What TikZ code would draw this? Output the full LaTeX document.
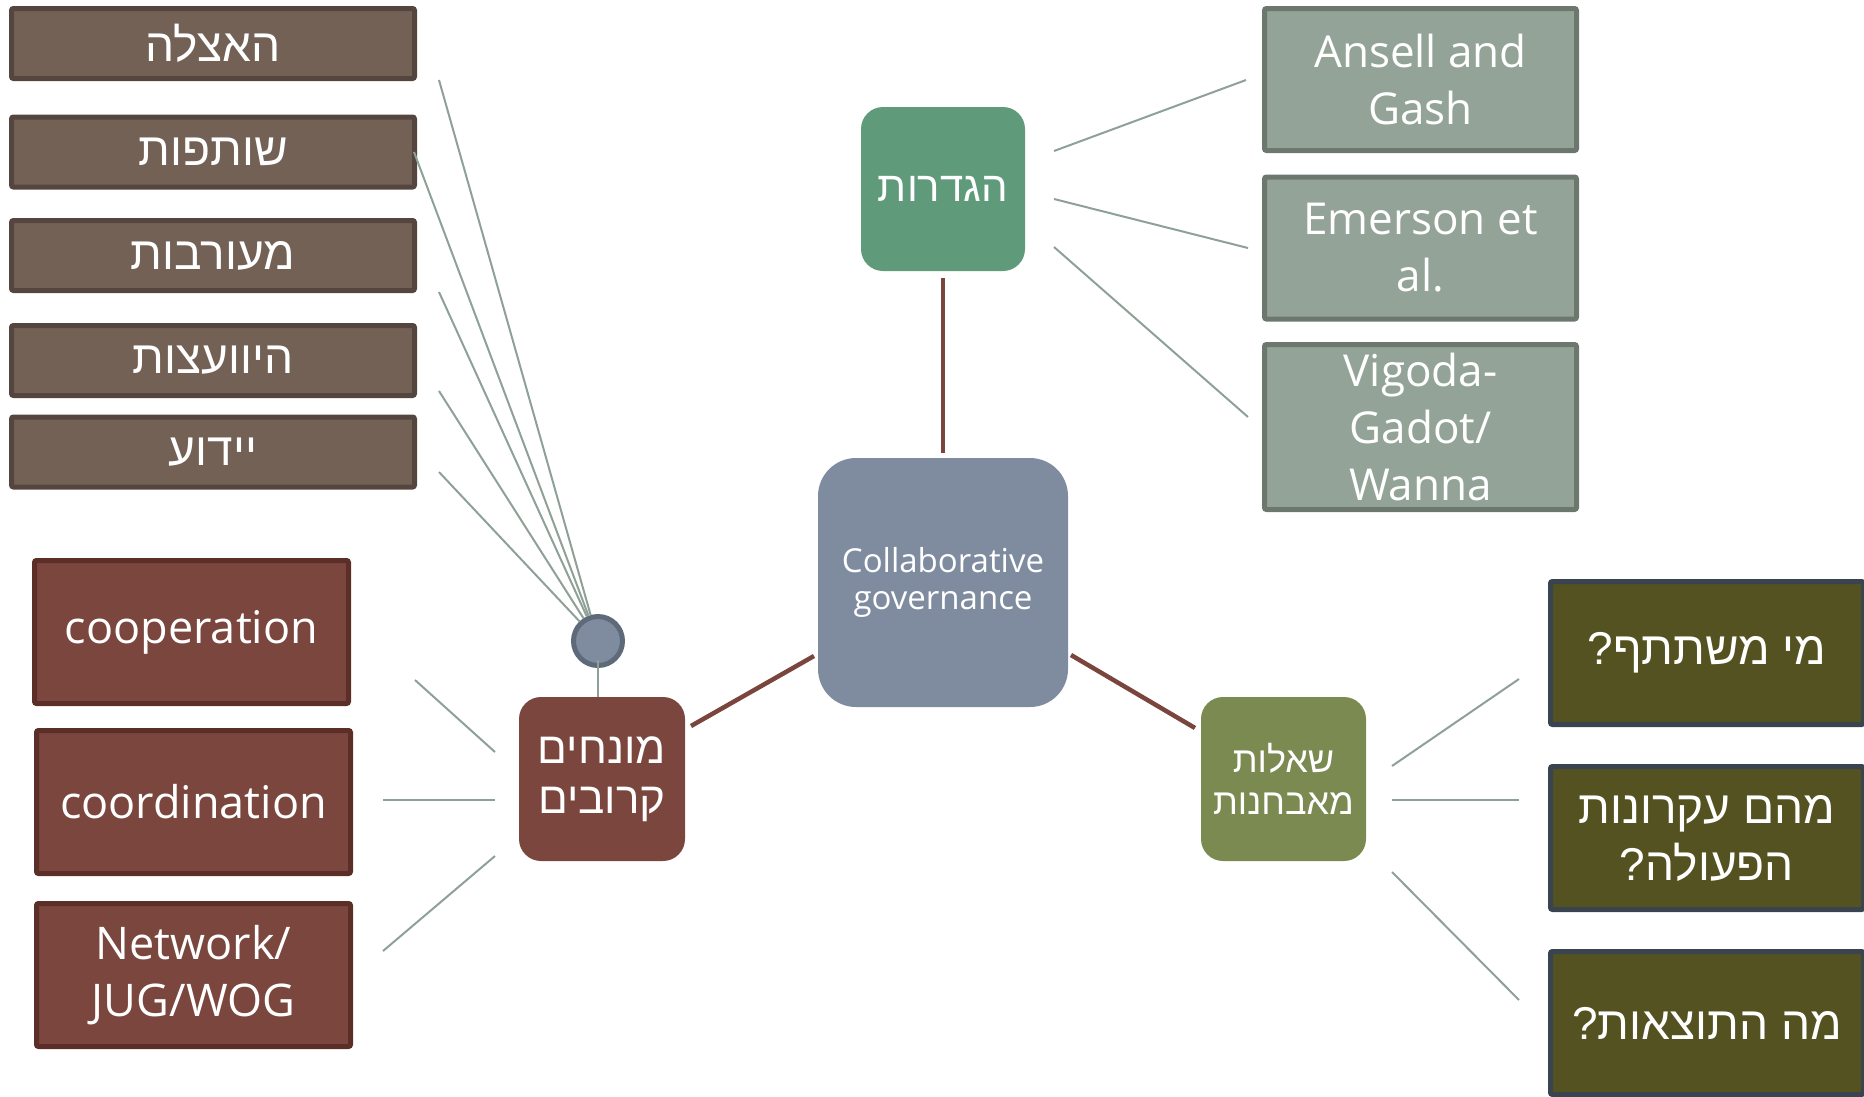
\documentclass[tikz,border=0pt]{standalone}
\usepackage{fontspec}
\setmainfont{Open Sans}
\newfontfamily\hebfont[Script=Hebrew]{Liberation Sans}
\TeXXeTstate=1
\definecolor{topfill}{HTML}{736156}
\definecolor{topline}{HTML}{54463E}
\definecolor{brfill}{HTML}{7A463D}
\definecolor{brline}{HTML}{5C2E28}
\definecolor{cfill}{HTML}{7F8CA0}
\definecolor{cline}{HTML}{5E6A7A}
\definecolor{gfill}{HTML}{5F9A7B}
\definecolor{gyfill}{HTML}{93A397}
\definecolor{gyline}{HTML}{6C786E}
\definecolor{qfill}{HTML}{7A8A50}
\definecolor{olfill}{HTML}{545220}
\definecolor{olline}{HTML}{394450}
\definecolor{thinc}{HTML}{8FA196}
\definecolor{thickc}{HTML}{7A453C}
\tikzset{
  basebox/.style={rectangle, inner sep=0pt, align=center, text=white, line width=5pt, rounded corners=2pt},
  topbox/.style={basebox, draw=topline, fill=topfill, minimum width=403pt, minimum height=70pt, font=\hebfont\fontsize{46}{57}\selectfont},
  lowbox/.style={basebox, draw=brline, fill=brfill, minimum width=314pt, minimum height=143pt, font=\fontsize{45}{57}\selectfont},
  refbox/.style={basebox, draw=gyline, fill=gyfill, minimum width=312pt, minimum height=142pt, font=\fontsize{44}{57}\selectfont},
  qbox/.style={basebox, draw=olline, fill=olfill, minimum width=313pt, minimum height=143pt, font=\hebfont\fontsize{46}{57}\selectfont},
  hub/.style={rectangle, inner sep=0pt, align=center, text=white, rounded corners=22pt, minimum width=165pt, minimum height=164pt},
  thinline/.style={draw=thinc, line width=2pt},
  thickline/.style={draw=thickc, line width=4.5pt},
}
\begin{document}
\begin{tikzpicture}[x=1pt,y=-1pt]
\useasboundingbox (0,0) rectangle (1864,1096);
\clip (0,0) rectangle (1864,1096);

% left top boxes
\node[topbox] (a1) at (213,43.5) {\beginR האצלה\endR};
\node[topbox] (a2) at (213,152) {\beginR שותפות\endR};
\node[topbox] (a3) at (213,255.5) {\beginR מעורבות\endR};
\node[topbox] (a4) at (213,360.5) {\beginR היוועצות\endR};
\node[topbox] (a5) at (213,452) {\beginR יידוע\endR};

% lower left boxes
\node[lowbox] (b1) at (191.5,632) {cooperation};
\node[lowbox] (b2) at (193.5,802) {coordination};
\node[lowbox] (b3) at (193.5,975) {Network/\\JUG/WOG};

% hubs
\node[hub, fill=brfill, minimum width=166pt, font=\hebfont\fontsize{44}{50}\selectfont] (m) at (602,779) {\beginR מונחים\endR\\\beginR קרובים\endR};
\node[hub, fill=cfill, minimum width=250pt, minimum height=249pt, rounded corners=38pt, font=\fontsize{33}{37}\selectfont] (g) at (943,582.5) {Collaborative\\governance};
\node[hub, fill=gfill, minimum width=164pt, font=\hebfont\fontsize{42}{46}\selectfont] (d) at (943,189) {\beginR הגדרות\endR};
\node[hub, fill=qfill, font=\hebfont\fontsize{36}{42}\selectfont] (q) at (1283.5,779) {\beginR שאלות\endR\\\beginR מאבחנות\endR};

% right reference boxes
\node[refbox] (r1) at (1420.5,79.5) {Ansell and\\Gash};
\node[refbox] (r2) at (1420.5,248) {Emerson et\\al.};
\node[refbox, minimum height=165pt] (r3) at (1420.5,427) {Vigoda-\\Gadot/\\Wanna};

% right question boxes
\node[qbox] (o1) at (1707,653) {\beginR מי משתתף?\endR};
\node[qbox] (o2) at (1707,838) {\beginR מהם עקרונות\endR\\\beginR הפעולה?\endR};
\node[qbox] (o3) at (1707,1023) {\beginR מה התוצאות?\endR};

% small circle
\node[circle, draw=cline, fill=cfill, line width=5pt, minimum size=49pt, inner sep=0pt] (c) at (598,641) {};

% free ends of connectors
\coordinate (a1e) at (439,80);
\coordinate (a2e) at (414,152);
\coordinate (a3e) at (439,292);
\coordinate (a4e) at (439,391);
\coordinate (a5e) at (439,472);
\coordinate (b1e) at (415,680);  \coordinate (m1e) at (495,752);
\coordinate (b2e) at (383,800);  \coordinate (m2e) at (495,800);
\coordinate (b3e) at (383,951);  \coordinate (m3e) at (495,856);
\coordinate (d1e) at (1054,151); \coordinate (r1e) at (1246,80);
\coordinate (d2e) at (1054,199); \coordinate (r2e) at (1248,248);
\coordinate (d3e) at (1054,247); \coordinate (r3e) at (1248,417);
\coordinate (q1e) at (1392,766); \coordinate (o1e) at (1519,679);
\coordinate (q2e) at (1392,800); \coordinate (o2e) at (1519,800);
\coordinate (q3e) at (1392,872); \coordinate (o3e) at (1519,1000);
\coordinate (gme) at (814,656);  \coordinate (mge) at (691,726);
\coordinate (gqe) at (1071,655); \coordinate (qge) at (1195,728);
\coordinate (gde) at (943,453);  \coordinate (dge) at (943,278);

% thin connectors
\foreach \s in {a1e,a2e,a3e,a4e,a5e} \draw[thinline] (\s) -- (c);
\draw[thinline] ([yshift=-19pt]c.center) -- (c.center |- m.north);
\draw[thinline] (b1e) -- (m1e);
\draw[thinline] (b2e) -- (m2e);
\draw[thinline] (b3e) -- (m3e);
\draw[thinline] (d1e) -- (r1e);
\draw[thinline] (d2e) -- (r2e);
\draw[thinline] (d3e) -- (r3e);
\draw[thinline] (q1e) -- (o1e);
\draw[thinline] (q2e) -- (o2e);
\draw[thinline] (q3e) -- (o3e);

% thick connectors
\draw[thickline] (gde) -- (dge);
\draw[thickline] (gme) -- (mge);
\draw[thickline] (gqe) -- (qge);
\end{tikzpicture}
\end{document}
